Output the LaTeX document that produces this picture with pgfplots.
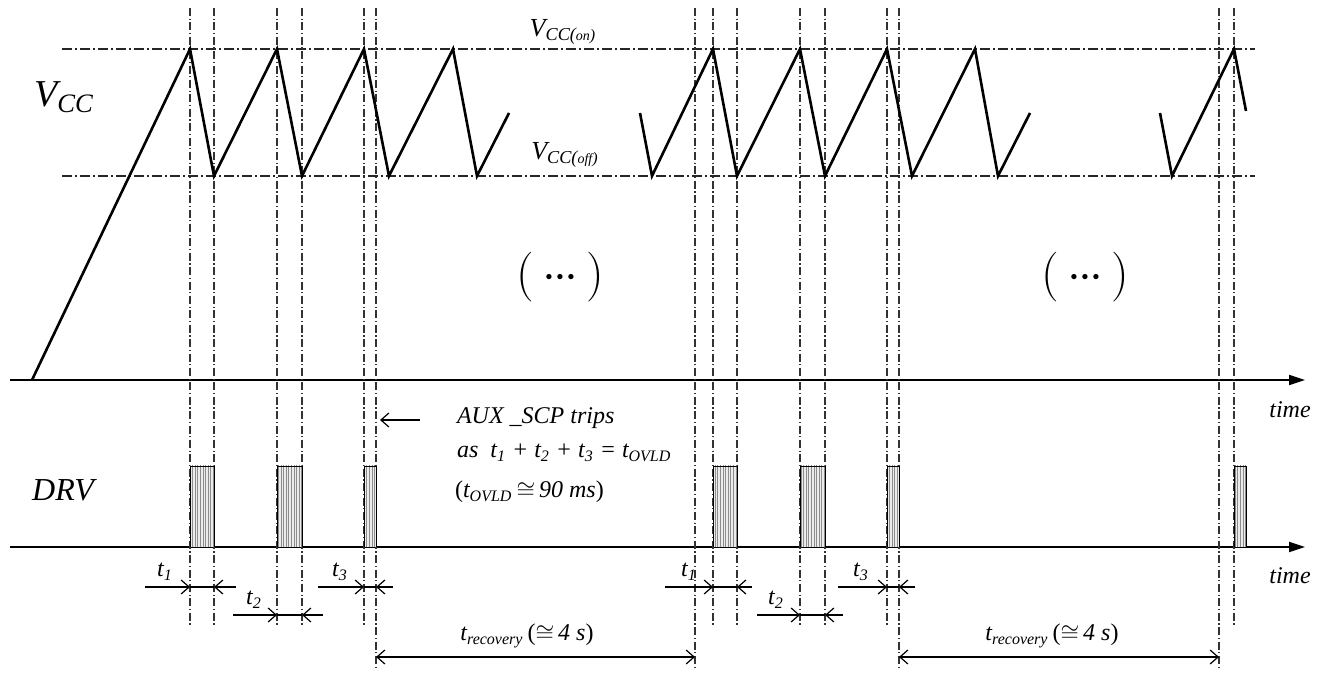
\documentclass[border=0pt]{standalone}
\usepackage{fontspec}
\setmainfont{Liberation Serif}
\usepackage{pgfplots}
\pgfplotsset{compat=1.18}
\usetikzlibrary{arrows.meta,patterns.meta}

\tikzset{
  vdd/.style={black!80, line width=0.6pt, dash pattern=on 4pt off 1.3pt on 0.6pt off 1.3pt},
  hdd/.style={black!85, line width=0.7pt, dash pattern=on 5pt off 1.5pt on 1pt off 1.5pt},
  wave/.style={black, line width=1.3pt, line join=miter},
  dim/.style={black, line width=0.6pt},
  barb/.tip={Straight Barb[length=4pt,width=7pt]},
  pulse/.style={draw=black, line width=0.4pt, fill=black!8,
    postaction={pattern={Lines[angle=90,distance=1.3pt,line width=0.25pt]}, pattern color=black!45}},
}
\newcommand{\lbl}{\fontsize{12}{14}\selectfont\itshape}
\newcommand{\gapdots}{$(\,{\cdot}\mkern-1mu{\cdot}\mkern-1mu{\cdot}\,)$}

\begin{document}
\begin{tikzpicture}
\begin{axis}[
  width=659.5pt, height=339.5pt, scale only axis,
  xmin=0, xmax=1319, ymin=0, ymax=679, y dir=reverse,
  axis lines=none, clip=false, no marks,
]
\coordinate (bl) at (axis cs:0,679);
\coordinate (tr) at (axis cs:1319,0);

% time axes
\addplot[black, line width=1pt, -{Triangle[length=8pt,width=5pt]}] coordinates {(10,380) (1305,380)};
\addplot[black, line width=1pt, -{Triangle[length=8pt,width=5pt]}] coordinates {(10,547) (1305,547)};

% V_CC(on) / V_CC(off) levels
\addplot[hdd] coordinates {(62,49) (1255,49)};
\addplot[hdd] coordinates {(62,176) (1255,176)};

% vertical markers, short
\addplot[vdd] coordinates {(190,8) (190,625)};
\addplot[vdd] coordinates {(214,8) (214,625)};
\addplot[vdd] coordinates {(277,8) (277,625)};
\addplot[vdd] coordinates {(302,8) (302,625)};
\addplot[vdd] coordinates {(364,8) (364,625)};
\addplot[vdd] coordinates {(713,8) (713,625)};
\addplot[vdd] coordinates {(737,8) (737,625)};
\addplot[vdd] coordinates {(800,8) (800,625)};
\addplot[vdd] coordinates {(825,8) (825,625)};
\addplot[vdd] coordinates {(887,8) (887,625)};
\addplot[vdd] coordinates {(1234,8) (1234,625)};
% vertical markers, long
\addplot[vdd] coordinates {(376,8) (376,670)};
\addplot[vdd] coordinates {(695,8) (695,670)};
\addplot[vdd] coordinates {(899,8) (899,670)};
\addplot[vdd] coordinates {(1219,8) (1219,670)};

% VCC waveform
\addplot[wave] coordinates {(32,380) (190,49) (214,176) (277,49) (302,176) (364,49) (389,176) (453,49) (477,176) (509,113)};
\addplot[wave] coordinates {(640,113) (652,176) (713,49) (737,176) (800,49) (825,176) (887,49) (912,176) (975,49) (998,176) (1030,113)};
\addplot[wave] coordinates {(1160,113) (1172,176) (1234,49) (1246,111)};

% DRV pulses
\addplot[pulse] coordinates {(190,547) (190,466) (214,466) (214,547)};
\addplot[pulse] coordinates {(277,547) (277,466) (302,466) (302,547)};
\addplot[pulse] coordinates {(364,547) (364,466) (376,466) (376,547)};
\addplot[pulse] coordinates {(713,547) (713,466) (737,466) (737,547)};
\addplot[pulse] coordinates {(800,547) (800,466) (825,466) (825,547)};
\addplot[pulse] coordinates {(887,547) (887,466) (899,466) (899,547)};
\addplot[pulse] coordinates {(1234,547) (1234,466) (1246,466) (1246,547)};

% dimension arrows t1, t2, t3 (first burst)
\addplot[dim, -{barb}] coordinates {(145,587) (190,587)};
\addplot[dim] coordinates {(190,587) (214,587)};
\addplot[dim, -{barb}] coordinates {(236,587) (214,587)};
\addplot[dim, -{barb}] coordinates {(233,615) (277,615)};
\addplot[dim] coordinates {(277,615) (302,615)};
\addplot[dim, -{barb}] coordinates {(323,615) (302,615)};
\addplot[dim, -{barb}] coordinates {(318,587) (364,587)};
\addplot[dim] coordinates {(364,587) (376,587)};
\addplot[dim, -{barb}] coordinates {(393,587) (376,587)};
% second burst
\addplot[dim, -{barb}] coordinates {(665,587) (713,587)};
\addplot[dim] coordinates {(713,587) (737,587)};
\addplot[dim, -{barb}] coordinates {(752,587) (737,587)};
\addplot[dim, -{barb}] coordinates {(757,615) (800,615)};
\addplot[dim] coordinates {(800,615) (825,615)};
\addplot[dim, -{barb}] coordinates {(843,615) (825,615)};
\addplot[dim, -{barb}] coordinates {(838,587) (887,587)};
\addplot[dim] coordinates {(887,587) (899,587)};
\addplot[dim, -{barb}] coordinates {(915,587) (899,587)};
% recovery
\addplot[dim, {barb}-{barb}] coordinates {(376,657) (695,657)};
\addplot[dim, {barb}-{barb}] coordinates {(899,657) (1219,657)};
% AUX_SCP trip pointer
\addplot[dim, -{barb}] coordinates {(420,420) (380,420)};

% labels
\node[font=\fontsize{19}{21}\selectfont\itshape] at (axis cs:64,97) {V\textsubscript{CC}};
\node[font=\fontsize{16}{18}\selectfont\itshape] at (axis cs:63,490) {DRV};
\node[font=\fontsize{13}{15}\selectfont\itshape] at (axis cs:563,32) {V\textsubscript{CC(\scriptsize on\footnotesize)}};
\node[font=\fontsize{13}{15}\selectfont\itshape] at (axis cs:565,155) {V\textsubscript{CC(\scriptsize off\footnotesize)}};
\node[font=\lbl] at (axis cs:1290,410) {time};
\node[font=\lbl] at (axis cs:1290,576) {time};
\node[font=\fontsize{27}{29}\selectfont] at (axis cs:560,277) {\gapdots};
\node[font=\fontsize{27}{29}\selectfont] at (axis cs:1085,277) {\gapdots};

\node[font=\lbl, anchor=west] at (axis cs:450,418) {AUX \_SCP trips};
\node[font=\lbl, anchor=west] at (axis cs:450,453) {as\ \ t\textsubscript{1} + t\textsubscript{2} + t\textsubscript{3} = t\textsubscript{OVLD}};
\node[font=\lbl, anchor=west] at (axis cs:448,492) {\upshape(\itshape t\textsubscript{OVLD}\,$\cong$\,90 ms\upshape)};

\node[font=\lbl] at (axis cs:165,572) {t\textsubscript{1}};
\node[font=\lbl] at (axis cs:254,600) {t\textsubscript{2}};
\node[font=\lbl] at (axis cs:340,572) {t\textsubscript{3}};
\node[font=\lbl] at (axis cs:689,572) {t\textsubscript{1}};
\node[font=\lbl] at (axis cs:776,600) {t\textsubscript{2}};
\node[font=\lbl] at (axis cs:861,572) {t\textsubscript{3}};
\node[font=\lbl] at (axis cs:527,636) {t\textsubscript{recovery}\,{\upshape(}$\cong$\,4 s{\upshape)}};
\node[font=\lbl] at (axis cs:1052,636) {t\textsubscript{recovery}\,{\upshape(}$\cong$\,4 s{\upshape)}};
\end{axis}
\pgfresetboundingbox
\path[use as bounding box] (bl) rectangle (tr);
\end{tikzpicture}
\end{document}
